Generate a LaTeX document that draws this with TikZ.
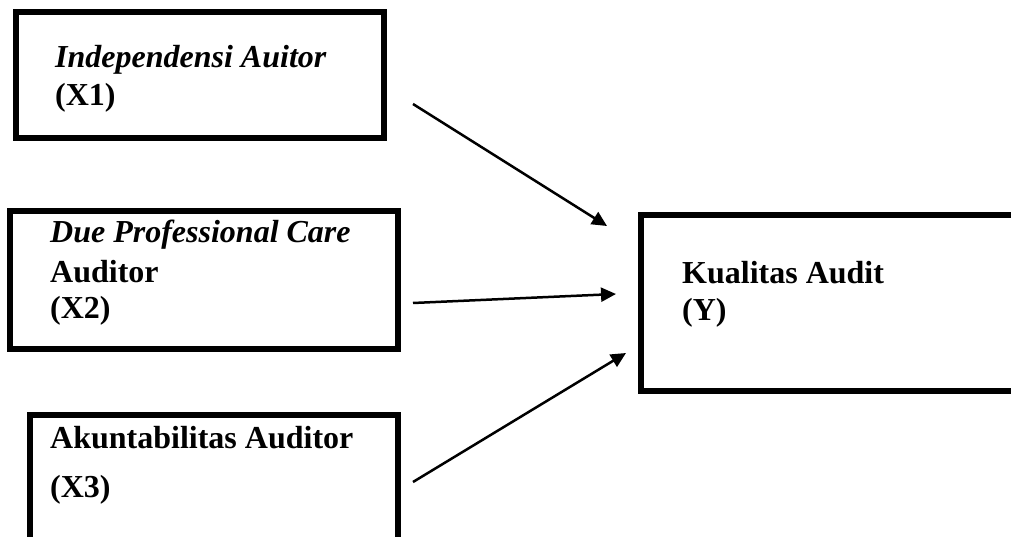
\documentclass[tikz,border=0pt]{standalone}
\usepackage{fontspec}
\setmainfont{Liberation Serif}
\usetikzlibrary{arrows.meta}

\tikzset{
  varbox/.style={draw,line width=6pt,rectangle,inner sep=0pt},
  vartext/.style={anchor=base west,inner sep=0pt,font=\fontsize{32}{38}\selectfont\bfseries},
  panah/.style={-{Triangle[length=15pt,width=14pt]},line width=2.5pt}
}

\begin{document}
\begin{tikzpicture}[x=1pt,y=-1pt]
\useasboundingbox (0,0) rectangle (1011,537);

\node[varbox,minimum width=368pt,minimum height=126pt] (x1) at (200,75) {};
\node[varbox,minimum width=388pt,minimum height=138pt] (x2) at (204,280) {};
\node[varbox,minimum width=368pt,minimum height=150pt] (x3) at (214,490) {};
\node[varbox,minimum width=389pt,minimum height=176pt] (y) at (835.5,303) {};

\node[vartext] (t1a) at (55,68) {\textit{Independensi Auitor}};
\node[vartext] (t1b) at (55,106) {(X1)};
\node[vartext] (t2a) at (50,243) {\textit{Due Professional Care}};
\node[vartext] (t2b) at (50,282) {Auditor};
\node[vartext] (t2c) at (50,318) {(X2)};
\node[vartext] (t3a) at (50,448) {Akuntabilitas Auditor};
\node[vartext] (t3b) at (50,497) {(X3)};
\node[vartext] (tya) at (682,283) {Kualitas Audit};
\node[vartext] (tyb) at (682,320) {(Y)};

\coordinate (a1) at (413,104);
\coordinate (b1) at (607,226);
\coordinate (a2) at (413,303);
\coordinate (b2) at (616,294);
\coordinate (a3) at (413,482);
\coordinate (b3) at (626,353);

 \draw[panah] (a1) -- (b1);
 \draw[panah] (a2) -- (b2);
 \draw[panah] (a3) -- (b3);

\end{tikzpicture}
\end{document}
